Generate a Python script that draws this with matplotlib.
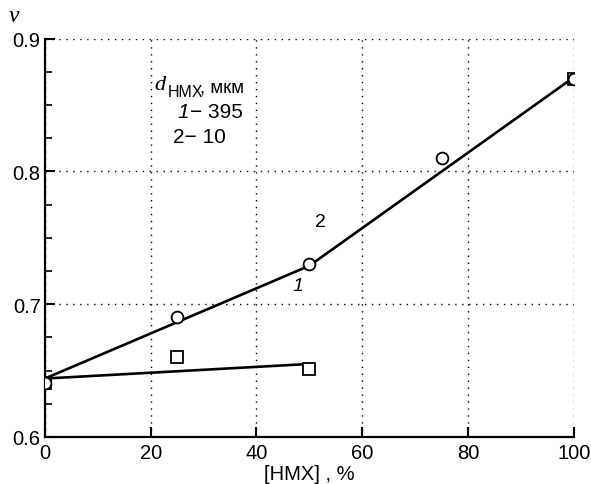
import matplotlib
matplotlib.use("Agg")
import matplotlib.pyplot as plt
from matplotlib.ticker import MultipleLocator

plt.rcParams["font.family"] = ["Liberation Sans", "DejaVu Sans"]

# data
hmx_2 = [0, 25, 50, 75, 100]
nu_2 = [0.641, 0.690, 0.730, 0.810, 0.870]
hmx_1 = [0, 25, 50, 100]
nu_1 = [0.641, 0.660, 0.651, 0.870]
# fitted lines
fit2_x = [0, 50, 100]; fit2_y = [0.644, 0.729, 0.871]
fit1_x = [0, 50]; fit1_y = [0.644, 0.655]

fig = plt.figure(figsize=(5.91, 4.85), dpi=100)
ax = fig.add_axes([0.076, 0.097, 0.895, 0.821])

ax.plot(fit2_x, fit2_y, color="black", lw=1.9, zorder=3)
ax.plot(fit1_x, fit1_y, color="black", lw=1.9, zorder=3)
ax.plot(hmx_1, nu_1, ls="none", marker="s", ms=8, mfc="white", mec="black", mew=1.3, zorder=4)
ax.plot(hmx_2, nu_2, ls="none", marker="o", ms=8.5, mfc="white", mec="black", mew=1.3, zorder=5)

ax.set_xlim(0, 100); ax.set_ylim(0.6, 0.9)
ax.yaxis.set_minor_locator(MultipleLocator(0.025))
ax.set_xticks([0, 20, 40, 60, 80, 100])
ax.set_xticklabels(["0", "20", "40", "60", "80", "100"])
ax.set_yticks([0.6, 0.7, 0.8, 0.9])
ax.set_yticklabels(["0.6", "0.7", "0.8", "0.9"])
ax.tick_params(direction="in", labelsize=14.5, length=7, width=1.5)
ax.tick_params(axis="x", pad=4)
ax.tick_params(axis="y", pad=3)
ax.tick_params(which="minor", direction="in", length=5, width=1.2)
ax.spines[["top", "right"]].set_visible(False)
ax.spines[["left", "bottom"]].set_linewidth(1.6)
ax.grid(True, ls=(0, (1, 4)), color="black", lw=1)
ax.set_axisbelow(True)

ax.set_xlabel("[HMX] , %", fontsize=14.5, labelpad=2)
ax.text(-0.068, 1.045, "ν", transform=ax.transAxes, fontsize=17,
        family="Liberation Serif", style="italic")

# legend-like annotation
ax.text(20.6, 0.8623, "d", fontsize=16, family="Liberation Serif", style="italic")
ax.text(23.3, 0.857, "HMX", fontsize=11.5)
ax.text(29.3, 0.860, ", мкм", fontsize=13.5)
ax.text(25.1, 0.8412, "1", fontsize=15, style="italic")
ax.text(27.4, 0.8412, "− 395", fontsize=15)
ax.text(24.2, 0.8224, "2− 10", fontsize=15)

# curve labels
ax.text(51.0, 0.759, "2", fontsize=14)
ax.text(46.9, 0.711, "1", fontsize=14, style="italic")

fig.savefig("out.png", dpi=100, facecolor="white")
